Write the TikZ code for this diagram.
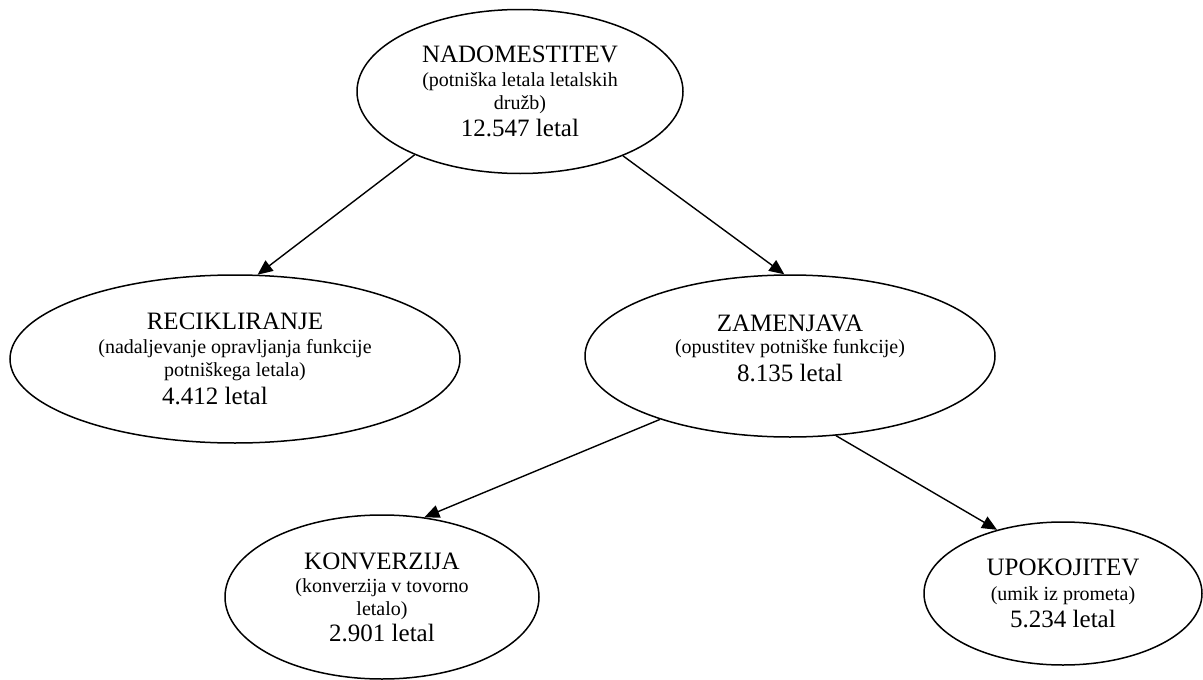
\documentclass[tikz,border=0pt]{standalone}
\usepackage{fontspec}
\setmainfont{Liberation Serif}
\usepackage{tikz}
\usetikzlibrary{arrows.meta,shapes.geometric}

\begin{document}
\begin{tikzpicture}[x=1pt, y=-1pt,
		oval/.style={ellipse, draw, line width=1.5pt, inner sep=0pt, align=center, font=\fontsize{25}{23}\selectfont},
		link/.style={line width=1.4pt, -{Triangle[length=15pt,width=13pt]}}]
			\useasboundingbox (0,0) rectangle (1203,680);
			% Nodes
			\node[oval, minimum width=326pt, minimum height=164pt] (nadom) at (520,91.5) {NADOMESTITEV\\[1pt] {\fontsize{20}{23}\selectfont (potniška letala letalskih}\\ {\fontsize{20}{23}\selectfont družb)}\\[4pt] 12.547 letal};
			\node[oval, minimum width=450pt, minimum height=168pt] (recikl) at (235,359) {RECIKLIRANJE\\[1pt] {\fontsize{20}{23}\selectfont (nadaljevanje opravljanja funkcije}\\ {\fontsize{20}{23}\selectfont potniškega letala)}\\[5pt] 4.412 letal\hspace*{40pt}\mbox{}};
			\node[oval, minimum width=410pt, minimum height=162pt] (zamenj) at (790,356) {ZAMENJAVA\\[-1pt] {\fontsize{20}{23}\selectfont (opustitev potniške funkcije)}\\[5pt] 8.135 letal\rule[-16pt]{0pt}{16pt}};
			\node[oval, minimum width=314pt, minimum height=164pt] (konverz) at (382,597) {KONVERZIJA\\[0pt] {\fontsize{20}{23}\selectfont (konverzija v tovorno}\\ {\fontsize{20}{23}\selectfont letalo)}\\[3pt] 2.901 letal};
			\node[oval, minimum width=278pt, minimum height=143pt] (upokoj) at (1063,593.5) {UPOKOJITEV\\[2pt] {\fontsize{20}{23}\selectfont (umik iz prometa)}\\[4pt] 5.234 letal};
			% Arrows
			\draw[link] (nadom.211.7) -- (recikl.75.3);
			\draw[link] (nadom.328.3) -- (zamenj.94.9);
			\draw[link] (zamenj.206.7) -- (konverz.62.6);
			\draw[link] (zamenj.300.1) -- (upokoj.136.9);
		\end{tikzpicture}
\end{document}
